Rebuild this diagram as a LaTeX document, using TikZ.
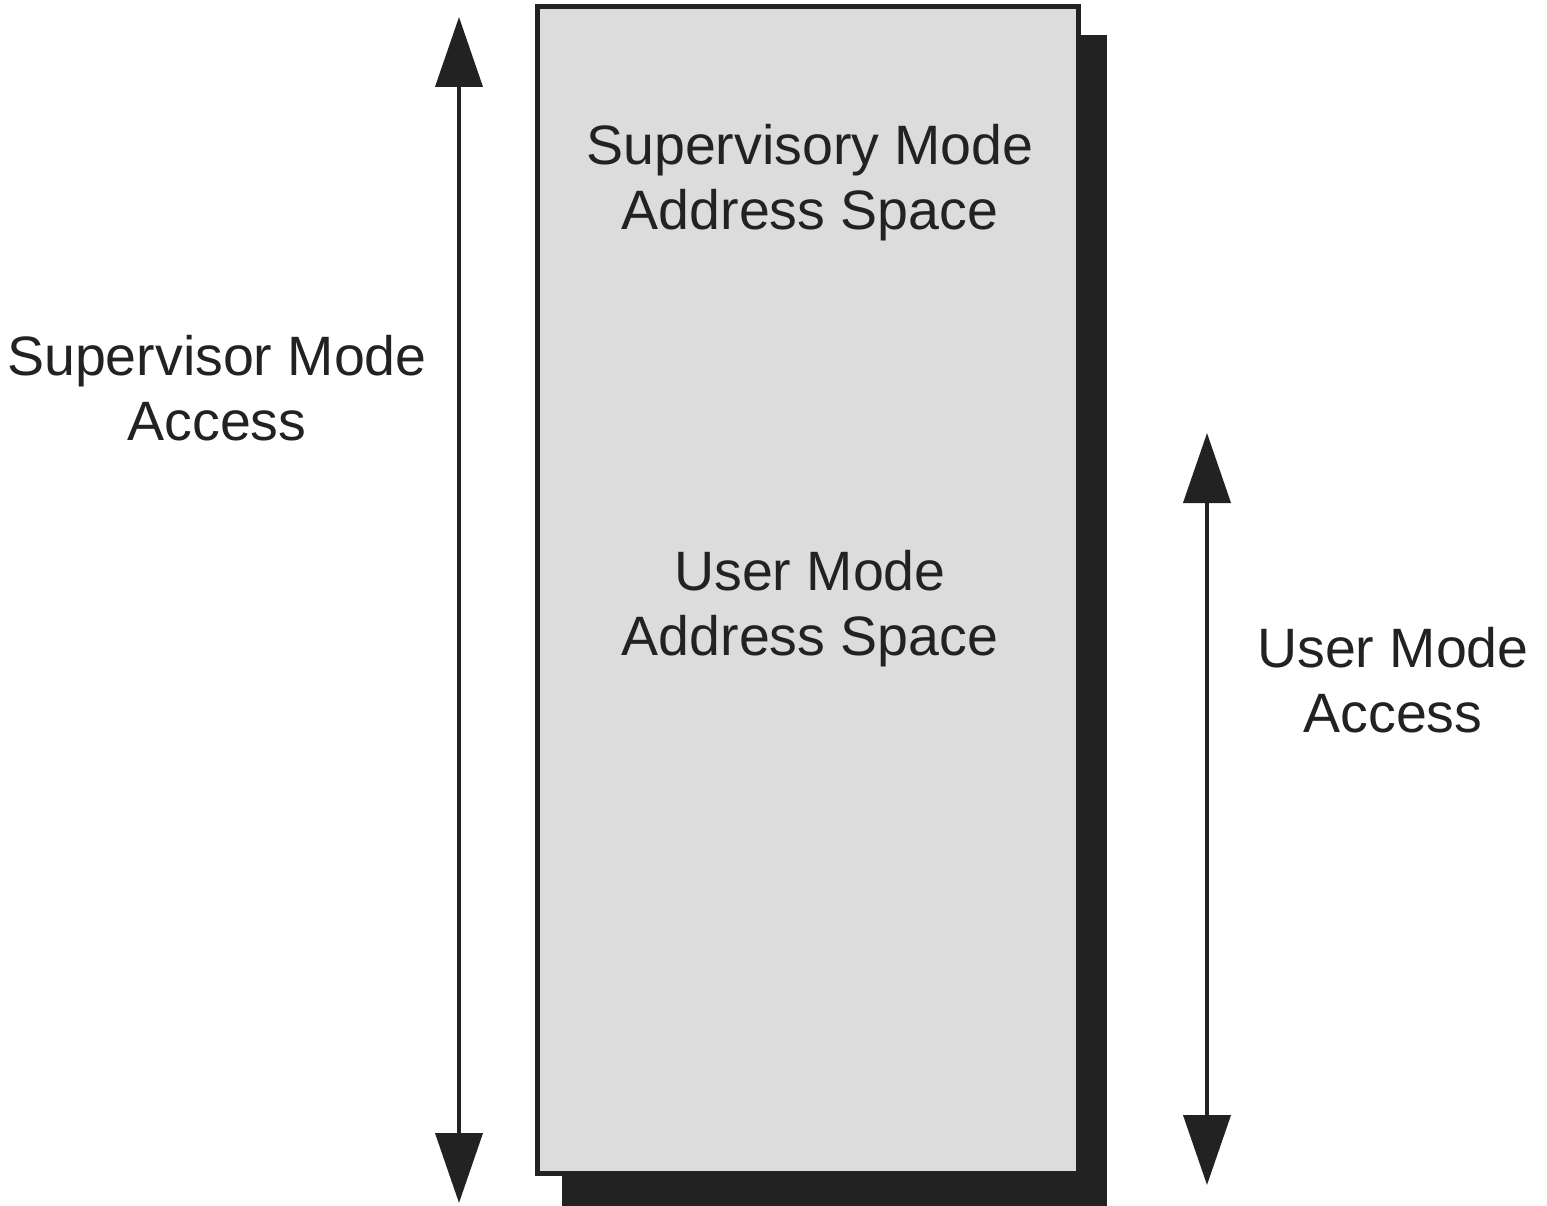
\documentclass[tikz,border=0pt]{standalone}
\usepackage{fontspec}
\setmainfont{Liberation Sans}
\usetikzlibrary{arrows.meta}
\definecolor{ink}{HTML}{222222}
\definecolor{panel}{HTML}{DCDCDC}
\tikzset{
  x=1pt, y=-1pt,
  label text/.style={font=\fontsize{55.5}{65}\selectfont, text=ink, align=center, anchor=base, inner sep=0pt},
  span arrow/.style={draw=ink, line width=4pt, {Triangle[width=47pt,length=70pt]}-{Triangle[width=47pt,length=70pt]}},
  memory box/.style={draw=ink, fill=panel, line width=5pt},
  box shadow/.style={fill=ink},
}
\begin{document}
\begin{tikzpicture}
\useasboundingbox (0,0) rectangle (1547,1206);
% drop shadow behind the address space block
\fill[box shadow] (562,35) rectangle (1107,1206);
% address space block
\draw[memory box] (537,7) rectangle (1078,1173);

% block contents (base anchor sits on the last line)
\node[label text] (sup space) at (810,230) {Supervisory Mode\\Address Space};
\node[label text] (usr space) at (810,655) {User Mode\\Address Space};

% access ranges
\coordinate (sup top) at (459,17);
\coordinate (sup bot) at (459,1203);
\coordinate (usr top) at (1207,433);
\coordinate (usr bot) at (1207,1185);
\draw[span arrow] (sup top) -- (sup bot);
\draw[span arrow] (usr top) -- (usr bot);

\node[label text] (sup access) at (217,440) {Supervisor Mode\\Access};
\node[label text] (usr access) at (1393,732) {User Mode\\Access};
\end{tikzpicture}
\end{document}
